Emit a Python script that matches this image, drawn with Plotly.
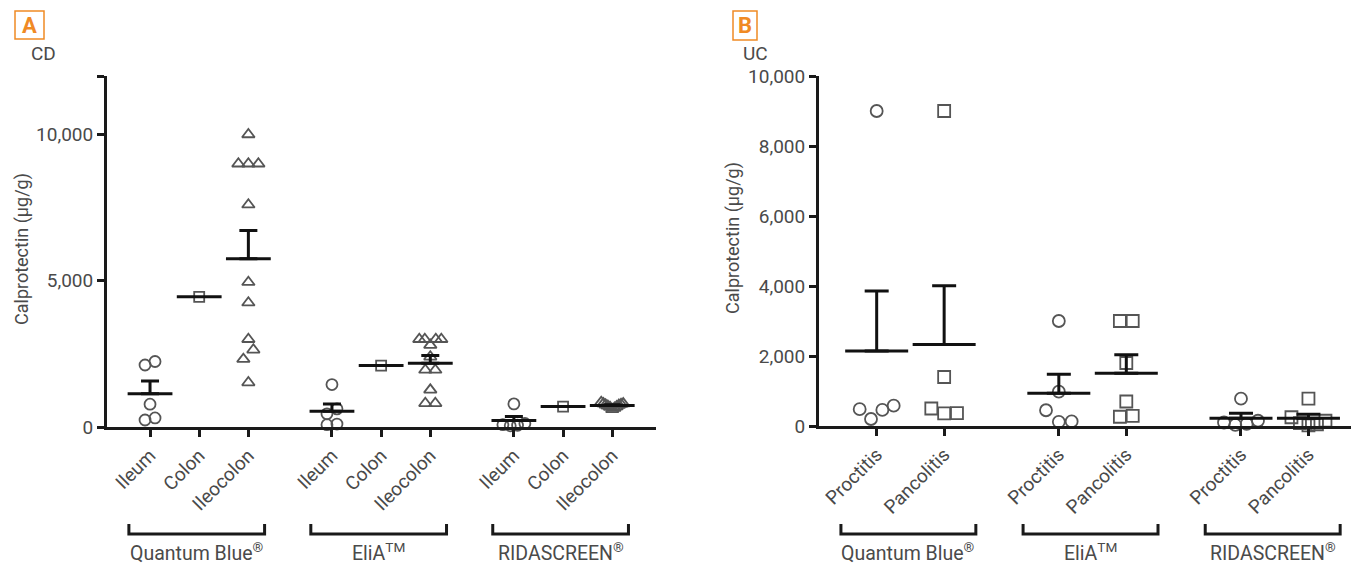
import numpy as np
import plotly.graph_objects as go

# ---------------- data ----------------
assays = ["Quantum Blue<sup>®</sup>", "EliA<sup>TM</sup>", "RIDASCREEN<sup>®</sup>"]

# Panel A : CD
cd_sites = ["Ileum", "Colon", "Ileocolon"]
cd_qb_ileum = [2240, 2120, 780, 310, 240]
cd_qb_colon = [4450]
cd_qb_ileocolon = [10000, 9000, 9000, 9000, 7600, 4950, 4250, 3000, 2640, 2320, 1520]
cd_elia_ileum = [1450, 620, 450, 100, 80]
cd_elia_colon = [2100]
cd_elia_ileocolon = [3000, 3000, 3000, 3000, 2800, 2400, 1950, 1950, 1270, 810, 810]
cd_rida_ileum = [790, 120, 80, 60, 40]
cd_rida_colon = [700]
cd_rida_ileocolon = [850, 800, 800, 780, 760, 750, 720, 700, 680, 650, 600]

# Panel B : UC
uc_sites = ["Proctitis", "Pancolitis"]
uc_qb_proctitis = [9000, 580, 480, 460, 200]
uc_qb_pancolitis = [9000, 1400, 500, 370, 360]
uc_elia_proctitis = [3000, 980, 450, 130, 120]
uc_elia_pancolitis = [3000, 3000, 1800, 700, 290, 265]
uc_rida_proctitis = [780, 150, 100, 60, 30]
uc_rida_pancolitis = [780, 250, 150, 80, 50, 20]

cd_groups = [
    [cd_qb_ileum, cd_qb_colon, cd_qb_ileocolon],
    [cd_elia_ileum, cd_elia_colon, cd_elia_ileocolon],
    [cd_rida_ileum, cd_rida_colon, cd_rida_ileocolon],
]
uc_groups = [
    [uc_qb_proctitis, uc_qb_pancolitis],
    [uc_elia_proctitis, uc_elia_pancolitis],
    [uc_rida_proctitis, uc_rida_pancolitis],
]

# ---------------- layout constants ----------------
OX, OY = 8, 8                  # page (body) margin of the html page
W, H = 1359 - OX, 566 - OY
GAP = 1.7                      # spacing between assay groups (in category units)
TEXT = "#4a4a4a"
MK = "#555555"
FONT = "Roboto, Noto Sans, sans-serif"
ORANGE = "#F08A24"


def fx(sx):
    return (sx - OX) / W


def fy(sy):
    return 1 - (sy - OY) / H


# screen-pixel geometry of the two panels
A_x0, A_x1, A_y0, A_y1 = 107, 656, 427, 76
B_x0, B_x1, B_y0, B_y1 = 819, 1355, 426, 76
A_xr = [-0.875, 10.29]
B_xr = [-0.855, 7.09]
A_yr = [0, 12000]
B_yr = [0, 10000]


def positions(n_per_group):
    pos = []
    for g in range(3):
        start = g * (n_per_group - 1 + GAP)
        pos.append([start + i for i in range(n_per_group)])
    return pos


def swarm(values, ypx_per_unit, xpx_per_unit, rowgap, spacing, maxw):
    """row based spreading of the points of one column (column scatter style)"""
    v = np.asarray(values, dtype=float)
    order = list(np.argsort(-v, kind="stable"))
    rows, cur = [], [order[0]]
    for a, b in zip(order[:-1], order[1:]):
        if (v[a] - v[b]) * ypx_per_unit < rowgap:
            cur.append(b)
        else:
            rows.append(cur)
            cur = [b]
    rows.append(cur)
    offs = [0.0] * len(v)
    for row in rows:
        n = len(row)
        sp = spacing if n < 2 else min(spacing, maxw / (n - 1))
        sgn = -1 if n % 2 else 1
        slots = sorted(range(n), key=lambda i: (abs(i - (n - 1) / 2), sgn * i))
        members = sorted(row, key=lambda k: v[k])          # smallest nearest centre
        for slot, idx in zip(slots, members):
            offs[idx] = (slot - (n - 1) / 2) * sp / xpx_per_unit
    return offs


fig = go.Figure()


def add_panel(groups, sites, symbols, sizes, xaxis, yaxis, xr, yr, px,
              mean_w, cap_w, rowfac, dfac, maxw):
    x0, x1, y0, y1 = px
    xppu = (x1 - x0) / (xr[1] - xr[0])
    yppu = (y0 - y1) / (yr[1] - yr[0])
    pos = positions(len(sites))
    for g, grp in enumerate(groups):
        for s, vals in enumerate(grp):
            d = sizes[s] + 1.5
            offs = swarm(vals, yppu, xppu, rowfac * d, dfac * d, maxw)
            xs = [pos[g][s] + o for o in offs]
            fig.add_trace(go.Scatter(
                x=xs, y=vals, mode="markers", xaxis=xaxis, yaxis=yaxis,
                marker=dict(symbol=symbols[s], size=sizes[s], color=MK,
                            line=dict(width=1.8, color=MK)),
                cliponaxis=False, showlegend=False, hoverinfo="y"))
    for g, grp in enumerate(groups):
        for s, vals in enumerate(grp):
            v = np.asarray(vals, dtype=float)
            m = float(v.mean())
            sem = float(v.std(ddof=1) / np.sqrt(len(v))) if len(v) > 1 else 0.0
            fig.add_trace(go.Scatter(
                x=[pos[g][s]], y=[m], mode="markers", xaxis=xaxis, yaxis=yaxis,
                marker=dict(symbol="line-ew", size=mean_w, color="#111",
                            line=dict(width=3, color="#111")),
                error_y=dict(type="data", symmetric=False, array=[sem],
                             arrayminus=[0], thickness=3, width=cap_w,
                             color="#111", visible=bool(sem > 0)),
                cliponaxis=False, showlegend=False, hoverinfo="y"))
    return pos


posA = add_panel(cd_groups, cd_sites, ["circle-open", "square-open", "triangle-up-open"],
                 [11, 10, 11], "x", "y", A_xr, A_yr, (A_x0, A_x1, A_y0, A_y1),
                 32, 9, 0.8, 0.8, 22)
posB = add_panel(uc_groups, uc_sites, ["circle-open", "square-open"],
                 [12, 12], "x2", "y2", B_xr, B_yr, (B_x0, B_x1, B_y0, B_y1),
                 45, 12, 1.0, 0.95, 34)

axis_common = dict(showline=True, linewidth=3, linecolor="#1a1a1a", ticks="outside",
                   ticklen=7, tickwidth=3, tickcolor="#1a1a1a", showgrid=False,
                   zeroline=False, automargin=False,
                   tickfont=dict(family=FONT, size=19, color=TEXT))

fig.update_layout(
    width=W, height=H, paper_bgcolor="white", plot_bgcolor="white",
    margin=dict(l=0, r=0, t=0, b=0, pad=0, autoexpand=False), showlegend=False,
    xaxis=dict(axis_common, domain=[fx(A_x0), fx(A_x1)], range=A_xr,
               tickvals=[p for grp in posA for p in grp], ticktext=cd_sites * 3,
               tickangle=-45),
    yaxis=dict(axis_common, domain=[fy(A_y0), fy(A_y1)], range=A_yr,
               tickvals=[0, 5000, 10000, 12000], ticktext=["0", "5,000", "10,000", ""]),
    xaxis2=dict(axis_common, domain=[fx(B_x0), fx(B_x1)], range=B_xr,
                tickvals=[p for grp in posB for p in grp], ticktext=uc_sites * 3,
                tickangle=-45, anchor="y2"),
    yaxis2=dict(axis_common, domain=[fy(B_y0), fy(B_y1)], range=B_yr,
                tickvals=list(range(0, 10001, 2000)), tickformat=",", anchor="x2"),
)

shapes = []
annots = []


def brackets(pos, xref, off, hw):
    for g in range(3):
        c = (pos[g][0] + pos[g][-1]) / 2 + off
        ybar = fy(534)
        yend = fy(524)
        shapes.append(dict(type="path", xref=xref, yref="paper",
                           path=f"M {c-hw},{yend} L {c-hw},{ybar} L {c+hw},{ybar} L {c+hw},{yend}",
                           line=dict(color="#1a1a1a", width=3)))
        annots.append(dict(x=c, y=fy(552), xref=xref, yref="paper", text=assays[g],
                           showarrow=False, xanchor="center", yanchor="middle",
                           font=dict(family=FONT, size=19.5, color=TEXT)))


brackets(posA, "x", -0.05, 1.38)
brackets(posB, "x2", -0.03, 1.0)

# panel letters
for (bx0, bx1, by0, by1, letter, lab, lx) in [(15, 44, 11, 39, "A", "CD", 43),
                                               (733, 757, 11, 40, "B", "UC", 755)]:
    shapes.append(dict(type="rect", xref="paper", yref="paper",
                       x0=fx(bx0), x1=fx(bx1), y0=fy(by1), y1=fy(by0),
                       line=dict(color=ORANGE, width=1.5)))
    annots.append(dict(x=fx((bx0 + bx1) / 2), y=fy((by0 + by1) / 2), xref="paper",
                       yref="paper", text=f"<b>{letter}</b>", showarrow=False,
                       xanchor="center", yanchor="middle",
                       font=dict(family=FONT, size=22, color=ORANGE)))
    annots.append(dict(x=fx(lx), y=fy(53), xref="paper", yref="paper", text=lab,
                       showarrow=False, xanchor="center", yanchor="middle",
                       font=dict(family=FONT, size=19, color=TEXT)))

# y-axis titles
for (tx, ty) in [(22, 249), (733, 238)]:
    annots.append(dict(x=fx(tx), y=fy(ty), xref="paper", yref="paper",
                       text="Calprotectin (µg/g)", textangle=-90, showarrow=False,
                       xanchor="center", yanchor="middle",
                       font=dict(family=FONT, size=18, color=TEXT)))

fig.update_layout(shapes=shapes, annotations=annots)
fig.write_html("out.html")
